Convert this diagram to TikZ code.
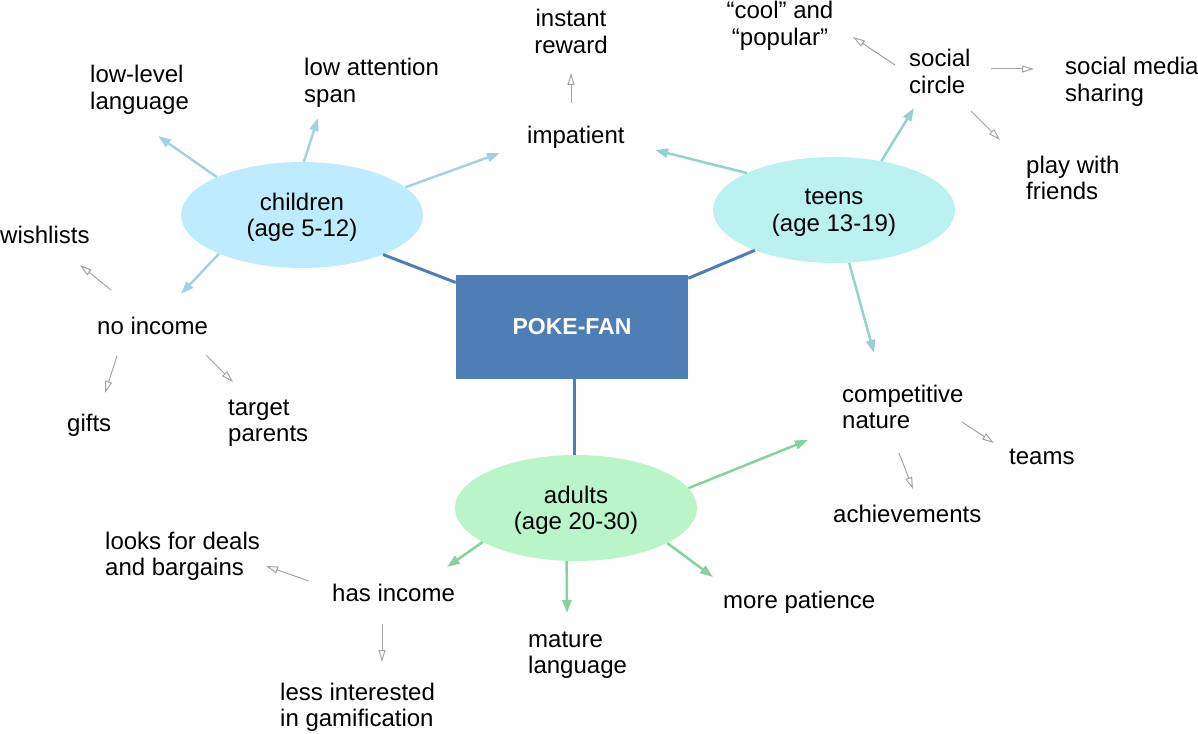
\documentclass[tikz,border=0pt]{standalone}
\usepackage{fontspec}
\setmainfont{Liberation Sans}
\usetikzlibrary{arrows.meta,shapes.geometric}
\definecolor{fanblue}{RGB}{79,125,181}
\definecolor{kidfill}{RGB}{190,235,253}
\definecolor{kidline}{RGB}{165,210,226}
\definecolor{teenfill}{RGB}{187,242,240}
\definecolor{teenline}{RGB}{150,210,205}
\definecolor{adultfill}{RGB}{185,245,200}
\definecolor{adultline}{RGB}{136,208,160}
\definecolor{leafline}{RGB}{165,165,165}
\tikzset{
    hub-box/.style = {fill=fanblue, text=white, font=\fontsize{23}{26.5}\selectfont\bfseries, minimum width=232pt, minimum height=104pt, inner sep=0pt},
    age-group/.style = {ellipse, minimum width=242pt, minimum height=106pt, inner sep=0pt, text depth=0pt, align=center},
    leaf/.style = {inner sep=0pt, anchor=base west, align=left},
    hub-line/.style = {draw=fanblue, line width=3pt},
    kid-arrow/.style = {draw=kidline, line width=2.5pt, -{Triangle[length=13pt,width=9pt]}},
    teen-arrow/.style = {draw=teenline, line width=2.5pt, -{Triangle[length=13pt,width=9pt]}},
    adult-arrow/.style = {draw=adultline, line width=2.5pt, -{Triangle[length=13pt,width=9pt]}},
    minor-arrow/.style = {draw=leafline, line width=1pt, -{Triangle[open,length=12pt,width=7pt]}},
}
\begin{document}
\begin{tikzpicture}[x=1pt, y=-1pt, font=\fontsize{24}{26.5}\selectfont]
\useasboundingbox (0,0) rectangle (1198,733);
\node[hub-box] (fan) at (572,327) {POKE-FAN};
\node[age-group, fill=kidfill] (children) at (302,215) {children\\(age 5-12)};
\node[age-group, fill=teenfill] (teens) at (834,210) {teens\\(age 13-19)};
\node[age-group, fill=adultfill] (adults) at (576,508) {adults\\(age 20-30)};

\node[leaf] (lowlevel) at (90,109.5) {low-level\\language};
\node[leaf] (lowatt) at (304,102.5) {low attention\\span};
\node[leaf, anchor=base, align=center] (instant) at (571,53.5) {instant\\reward};
\node[leaf] (impatient) at (527,143) {impatient};
\node[leaf, anchor=base, align=center] (cool) at (780,45.5) {“cool” and\\“popular”};
\node[leaf] (social) at (909,93.5) {social\\circle};
\node[leaf] (sharing) at (1065,101.5) {social media\\sharing};
\node[leaf] (friends) at (1026,199.5) {play with\\friends};
\node[leaf] (wishlists) at (0,243) {wishlists};
\node[leaf] (noincome) at (97,334) {no income};
\node[leaf] (gifts) at (67,431) {gifts};
\node[leaf] (parents) at (228,441.5) {target\\parents};
\node[leaf] (competitive) at (842,428.5) {competitive\\nature};
\node[leaf] (teams) at (1009,464) {teams};
\node[leaf] (achievements) at (833,522) {achievements};
\node[leaf] (deals) at (105,575.5) {looks for deals\\and bargains};
\node[leaf] (hasincome) at (332,601) {has income};
\node[leaf] (gamification) at (280,726.5) {less interested\\in gamification};
\node[leaf] (mature) at (528,673.5) {mature\\language};
\node[leaf] (patience) at (723,608) {more patience};

\draw[hub-line] (children.334) -- (fan);
\draw[hub-line] (teens.207) -- (fan);
\draw[hub-line] (adults.92) -- (adults.92 |- fan.south);

\draw[kid-arrow] (children.156) -- ([shift={(68,26.5)}]lowlevel.base west);
\draw[kid-arrow] (children.88) -- ([shift={(14,15.5)}]lowatt.base west);
\draw[kid-arrow] (children.15) -- ([shift={(-27,10)}]impatient.base west);
\draw[kid-arrow] (children.205) -- ([shift={(84,-40)}]noincome.base west);

\draw[teen-arrow] (teens.157) -- ([shift={(128,7)}]impatient.base west);
\draw[teen-arrow] (teens.46) -- ([shift={(5,14.5)}]social.base west);
\draw[teen-arrow] (teens.286) -- ([shift={(32,-75.5)}]competitive.base west);

\draw[adult-arrow] (adults.10) -- ([shift={(-34,11.5)}]competitive.base west);
\draw[adult-arrow] (adults.200) -- ([shift={(115,-34)}]hasincome.base west);
\draw[adult-arrow] (adults.260) -- ([shift={(39,-60.5)}]mature.base west);
\draw[adult-arrow] (adults.339) -- ([shift={(-10,-31)}]patience.base west);

\draw[minor-arrow] ([shift={(44,-40)}]impatient.base west) -- ([shift={(0,19.5)}]instant.base);
\draw[minor-arrow] ([shift={(-14,-28.5)}]social.base west) -- ([shift={(73,-8.5)}]cool.base);
\draw[minor-arrow] ([shift={(82,-24.5)}]social.base west) -- ([shift={(-31,-32.5)}]sharing.base west);
\draw[minor-arrow] ([shift={(62,17.5)}]social.base west) -- ([shift={(-26,-59.5)}]friends.base west);
\draw[minor-arrow] ([shift={(14,-44)}]noincome.base west) -- ([shift={(80,22)}]wishlists.base west);
\draw[minor-arrow] ([shift={(20,22)}]noincome.base west) -- ([shift={(38,-38)}]gifts.base west);
\draw[minor-arrow] ([shift={(109,21)}]noincome.base west) -- ([shift={(5,-59.5)}]parents.base west);
\draw[minor-arrow] ([shift={(120,-6.5)}]competitive.base west) -- ([shift={(-15,-21)}]teams.base west);
\draw[minor-arrow] ([shift={(57,24.5)}]competitive.base west) -- ([shift={(80,-33)}]achievements.base west);
\draw[minor-arrow] ([shift={(-23,-20)}]hasincome.base west) -- ([shift={(161,-9.5)}]deals.base west);
\draw[minor-arrow] ([shift={(50,23)}]hasincome.base west) -- ([shift={(102,-64.5)}]gamification.base west);
\end{tikzpicture}
\end{document}
